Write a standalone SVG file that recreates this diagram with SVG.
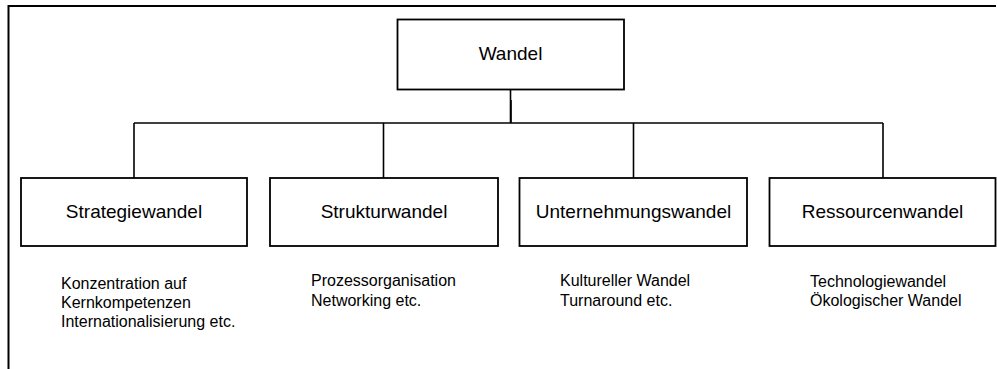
<svg xmlns="http://www.w3.org/2000/svg" width="997" height="369" viewBox="0 0 997 369">
  <style>
    .box { fill: #ffffff; stroke: #000000; stroke-width: 1.8; }
    .frame { fill: none; stroke: #000000; stroke-width: 2; }
    .link { fill: none; stroke: #000000; stroke-width: 1.6; }
    .title { font-family: "Liberation Sans", Arial, sans-serif; font-size: 19px; fill: #000000; text-anchor: middle; }
    .note { font-family: "Liberation Sans", Arial, sans-serif; font-size: 16px; fill: #000000; }
  </style>
  <rect width="997" height="369" fill="#ffffff"/>

  <!-- open frame: top edge and left edge only -->
  <path class="frame" d="M 8.5 369 V 6 H 996"/>

  <!-- tree connectors -->
  <g id="connectors">
    <path class="link" d="M 510.5 89.5 V 123"/>
    <path class="link" d="M 511 100 V 123" stroke-width="2.4"/>
    <path class="link" d="M 134 123 H 883"/>
    <path class="link" d="M 134 123 V 178"/>
    <path class="link" d="M 383.5 123 V 178"/>
    <path class="link" d="M 633.5 123 V 178"/>
    <path class="link" d="M 883 123 V 178"/>
  </g>

  <g id="wandel">
    <rect class="box" x="397.5" y="19.5" width="226.5" height="70"/>
    <text class="title" x="510.5" y="60">Wandel</text>
  </g>

  <g id="strategiewandel">
    <rect class="box" x="21" y="178" width="226" height="68"/>
    <text class="title" x="134" y="218">Strategiewandel</text>
    <text class="note" x="61" y="289">Konzentration auf</text>
    <text class="note" x="61" y="308">Kernkompetenzen</text>
    <text class="note" x="61" y="327">Internationalisierung etc.</text>
  </g>

  <g id="strukturwandel">
    <rect class="box" x="270" y="178" width="228" height="68"/>
    <text class="title" x="384" y="218">Strukturwandel</text>
    <text class="note" x="311" y="286">Prozessorganisation</text>
    <text class="note" x="311" y="305.5">Networking etc.</text>
  </g>

  <g id="unternehmungswandel">
    <rect class="box" x="519.5" y="178" width="227.5" height="68"/>
    <text class="title" x="633.5" y="218">Unternehmungswandel</text>
    <text class="note" x="560" y="286">Kultureller Wandel</text>
    <text class="note" x="560" y="305.5">Turnaround etc.</text>
  </g>

  <g id="ressourcenwandel">
    <rect class="box" x="769.5" y="178" width="226" height="68"/>
    <text class="title" x="882.5" y="218">Ressourcenwandel</text>
    <text class="note" x="810" y="286.5">Technologiewandel</text>
    <text class="note" x="810" y="306">Ökologischer Wandel</text>
  </g>
</svg>
